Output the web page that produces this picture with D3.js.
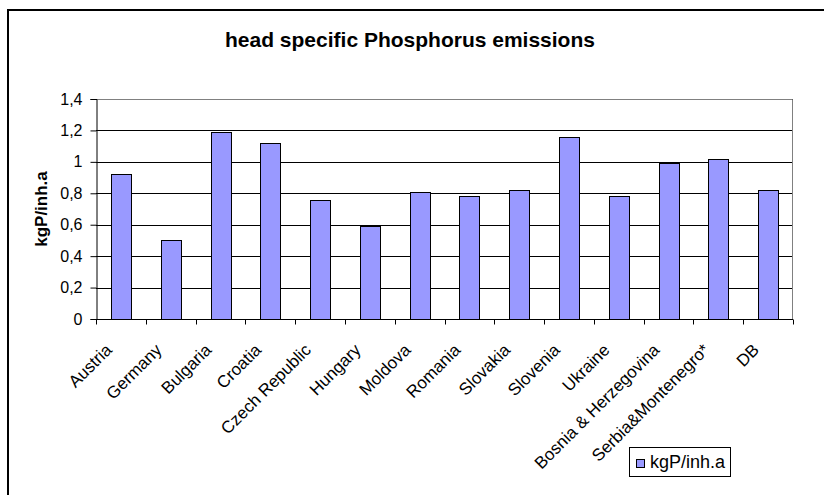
<!DOCTYPE html>
<html>
<head>
<meta charset="utf-8">
<script src="https://cdn.jsdelivr.net/npm/d3@7"></script>
<style>
  body { margin: 0; background: #fff; }
  text { font-family: "Liberation Sans", Arial, sans-serif; }
</style>
</head>
<body>
<div id="chart"></div>
<script>
// chart data
var countries = ["Austria", "Germany", "Bulgaria", "Croatia", "Czech Republic", "Hungary",
  "Moldova", "Romania", "Slovakia", "Slovenia", "Ukraine", "Bosnia & Herzegovina",
  "Serbia&Montenegro*", "DB"];
var emissions = [0.92, 0.50, 1.19, 1.12, 0.76, 0.59, 0.81, 0.78, 0.82, 1.16, 0.78, 0.99, 1.02, 0.82];
var yTicks = [0, 0.2, 0.4, 0.6, 0.8, 1, 1.2, 1.4];
var seriesName = "kgP/inh.a";

var svgWidth = 824, svgHeight = 495;
var margin = { top: 99, right: 31, bottom: 176, left: 96 };
var width = svgWidth - margin.left - margin.right;
var height = svgHeight - margin.top - margin.bottom;

var svg = d3.select("#chart").append("svg")
  .attr("width", svgWidth)
  .attr("height", svgHeight);

// outer chart frame (cut off at right/bottom like the original)
svg.append("rect")
  .attr("x", 8).attr("y", 10)
  .attr("width", 840).attr("height", 520)
  .attr("fill", "none")
  .attr("stroke", "#000")
  .attr("stroke-width", 2);

svg.append("text")
  .attr("x", 410).attr("y", 47)
  .attr("text-anchor", "middle")
  .attr("font-size", "21px")
  .attr("font-weight", "bold")
  .text("head specific Phosphorus emissions");

var chartGroup = svg.append("g")
  .attr("transform", `translate(${margin.left}, ${margin.top})`);

var x = d3.scaleBand()
  .domain(countries)
  .range([0, width])
  .paddingInner(0.6)
  .paddingOuter(0.3);

var y = d3.scaleLinear()
  .domain([0, 1.4])
  .range([height, 0]);

// gridlines
chartGroup.selectAll(".grid")
  .data(yTicks.slice(1))
  .enter()
  .append("line")
  .attr("x1", 0).attr("x2", width)
  .attr("y1", d => Math.round(y(d)) + 0.5)
  .attr("y2", d => Math.round(y(d)) + 0.5)
  .attr("stroke", "#000")
  .attr("stroke-width", 1);

// plot area border (top / right)
chartGroup.append("path")
  .attr("d", `M0,0.5H${width - 0.5}V${height}`)
  .attr("fill", "none")
  .attr("stroke", "#808080")
  .attr("stroke-width", 1);

// bars
chartGroup.selectAll("rect.bar")
  .data(emissions)
  .enter()
  .append("rect")
  .attr("class", "bar")
  .attr("x", (d, i) => Math.round(x(countries[i])) + 0.5)
  .attr("y", d => Math.round(y(d)) + 0.5)
  .attr("width", Math.round(x.bandwidth()))
  .attr("height", d => height - Math.round(y(d)))
  .attr("fill", "#9999ff")
  .attr("stroke", "#000")
  .attr("stroke-width", 1);

// y axis
var leftAxis = d3.axisLeft(y)
  .tickValues(yTicks)
  .tickSize(6)
  .tickPadding(8)
  .tickFormat(d => d3.format("~g")(d).replace(".", ","));

var yAxis = chartGroup.append("g")
  .attr("transform", "translate(0.5,0)")
  .call(leftAxis);
yAxis.selectAll("text").attr("font-size", "16px").attr("fill", "#000");
yAxis.selectAll("line, path").attr("stroke", "#000");

// x axis: line with ticks at category boundaries
var boundaries = d3.range(countries.length + 1).map(i => i * width / countries.length);
var xAxis = chartGroup.append("g")
  .attr("transform", `translate(0, ${height + 0.5})`);
xAxis.append("line")
  .attr("x1", -5).attr("x2", width)
  .attr("stroke", "#000");
xAxis.selectAll(".tick")
  .data(boundaries)
  .enter()
  .append("line")
  .attr("x1", d => Math.round(d) + 0.5)
  .attr("x2", d => Math.round(d) + 0.5)
  .attr("y1", 0).attr("y2", 5)
  .attr("stroke", "#000");

// rotated category labels
chartGroup.selectAll(".xlabel")
  .data(countries)
  .enter()
  .append("text")
  .attr("class", "xlabel")
  .attr("transform", d => `translate(${x(d) + x.bandwidth() / 2 - 8}, ${height + 32}) rotate(-45)`)
  .attr("text-anchor", "end")
  .attr("font-size", "17px")
  .text(d => d);

// y axis title
svg.append("text")
  .attr("transform", `translate(47, ${margin.top + height / 2}) rotate(-90)`)
  .attr("text-anchor", "middle")
  .attr("font-size", "17px")
  .attr("font-weight", "bold")
  .text(seriesName);

// legend
var legend = svg.append("g").attr("transform", "translate(629, 447)");
legend.append("rect")
  .attr("x", 0.5).attr("y", 0.5)
  .attr("width", 101).attr("height", 29)
  .attr("fill", "#fff")
  .attr("stroke", "#000");
legend.append("rect")
  .attr("x", 7.5).attr("y", 12.5)
  .attr("width", 8).attr("height", 8)
  .attr("fill", "#9999ff")
  .attr("stroke", "#000");
legend.append("text")
  .attr("x", 21).attr("y", 21)
  .attr("font-size", "18px")
  .text(seriesName);
</script>
</body>
</html>
